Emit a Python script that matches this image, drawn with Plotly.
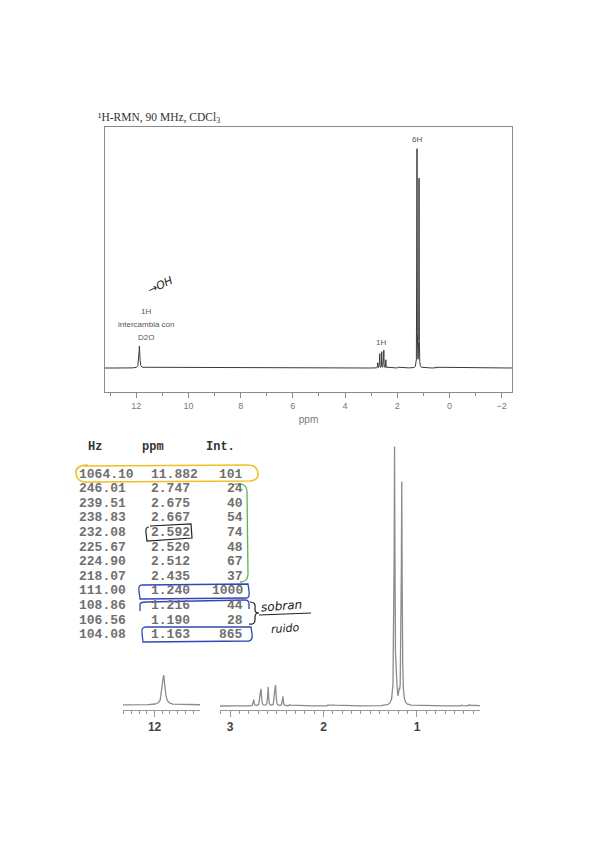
import numpy as np
import plotly.graph_objects as go

# ---------------- data ----------------
hz = [1064.10, 246.01, 239.51, 238.83, 232.08, 225.67, 224.90, 218.07,
      111.00, 108.86, 106.56, 104.08]
ppm = [11.882, 2.747, 2.675, 2.667, 2.592, 2.520, 2.512, 2.435,
       1.240, 1.216, 1.190, 1.163]
intensity = [101, 24, 40, 54, 74, 48, 67, 37, 1000, 44, 28, 865]
# small unlisted baseline bumps visible in the trace
minor_ppm = [2.36, 1.95, 1.88, 0.52, 0.44]
minor_int = [5, 4, 3, 5, 5]
# peak half-widths (ppm): OH is broad
half_width = [0.02] + [0.005] * 11
minor_width = [0.006] * 5

main_ticks = [12, 10, 8, 6, 4, 2, 0, -2]

OFF = 8  # page body margin
W, H = 599 - 2 * OFF, 848 - 2 * OFF
def X(p): return (p - OFF) / W
def Y(p): return 1 - (p - OFF) / H

# ---------------- line shape from peak list ----------------
centers = ppm + minor_ppm
heights = intensity + minor_int
widths = half_width + minor_width
grid = [np.arange(-2.4, 13.2, 0.004)]
for c in centers:
    grid.append(np.arange(c - 0.12, c + 0.12, 0.0004))
x = np.unique(np.round(np.concatenate(grid), 5))
y = np.zeros_like(x)
for c, h, w in zip(centers, heights, widths):
    y += h * w ** 2 / ((x - c) ** 2 + w ** 2)

fig = go.Figure()
fig.add_trace(go.Scatter(x=x, y=y, mode="lines", line=dict(color="#3a3a3a", width=1),
                         xaxis="x", yaxis="y", hoverinfo="skip"))
m2 = (x > 11.3) & (x < 12.5)
fig.add_trace(go.Scatter(x=x[m2], y=y[m2], mode="lines", line=dict(color="#8c8c8c", width=1.3),
                         xaxis="x2", yaxis="y2", hoverinfo="skip"))
m3 = (x > 0.2) & (x < 3.2)
fig.add_trace(go.Scatter(x=x[m3], y=y[m3], mode="lines", line=dict(color="#8c8c8c", width=1.3),
                         xaxis="x3", yaxis="y3", hoverinfo="skip"))

frame = "#8a8a8a"
fig.update_layout(
    width=W, height=H, margin=dict(l=0, r=0, t=0, b=0),
    paper_bgcolor="white", plot_bgcolor="white", showlegend=False,
    xaxis=dict(domain=[X(105), X(512)], range=[13.2, -2.4], anchor="y",
               tickvals=main_ticks, ticktext=[str(t).replace("-", "−") for t in main_ticks],
               ticks="outside", ticklen=5, tickcolor=frame, tickwidth=1,
               minor=dict(dtick=1, tick0=0, ticks="outside", ticklen=3, tickcolor=frame),
               showline=True, mirror=True, linecolor=frame, linewidth=1,
               showgrid=False, zeroline=False,
               tickfont=dict(family="Liberation Sans", size=9, color="#777"),
               title=dict(text="ppm", standoff=6,
                          font=dict(family="Liberation Sans", size=10, color="#777"))),
    yaxis=dict(domain=[Y(392), Y(127)], range=[-110, 1105], anchor="x",
               showline=True, mirror=True, linecolor=frame, linewidth=1,
               showticklabels=False, ticks="", showgrid=False, zeroline=False),
    xaxis2=dict(domain=[X(123), X(200)], range=[12.41, 11.41], anchor="y2",
                dtick=1, tick0=0, ticks="outside", ticklen=6, tickcolor="#999",
                minor=dict(dtick=0.1, tick0=0, ticks="outside", ticklen=3, tickcolor="#999"),
                showline=True, linecolor="#999", linewidth=1, showgrid=False, zeroline=False,
                tickfont=dict(family="Liberation Sans", size=12, color="#444", weight="bold")),
    yaxis2=dict(domain=[Y(710), Y(660)], range=[-17, 152], anchor="x2", visible=False),
    xaxis3=dict(domain=[X(220), X(480)], range=[3.107, 0.326], anchor="y3",
                dtick=1, tick0=0, ticks="outside", ticklen=6, tickcolor="#999",
                minor=dict(dtick=0.1, tick0=0, ticks="outside", ticklen=3, tickcolor="#999"),
                showline=True, linecolor="#999", linewidth=1, showgrid=False, zeroline=False,
                tickfont=dict(family="Liberation Sans", size=12, color="#444", weight="bold")),
    yaxis3=dict(domain=[Y(710), Y(440)], range=[-15.5, 1031], anchor="x3", visible=False),
)

def note(text, px, py, size=9, color="#555", family="Liberation Sans", xanchor="center",
         angle=0, weight="normal", style="normal"):
    fig.add_annotation(text=text, x=X(px), y=Y(py), xref="paper", yref="paper",
                       xanchor=xanchor, yanchor="middle", showarrow=False, textangle=angle,
                       font=dict(family=family, size=size, color=color, weight=weight, style=style))

# title and peak labels
note("¹H-RMN, 90 MHz, CDCl<sub>3</sub>", 96, 118, size=11.5, color="#333",
     family="Liberation Serif", xanchor="left")
note("6H", 417, 139, size=8)
note("1H", 381, 342, size=8)
note("1H", 146, 311, size=8)
note("intercambia con", 146, 324, size=8)
note("D2O", 146, 337, size=8)

# table
mono = "Liberation Mono"
note("Hz", 86, 447, size=12, color="#333", family=mono, xanchor="left", weight="bold")
note("ppm", 140, 447, size=12, color="#333", family=mono, xanchor="left", weight="bold")
note("Int.", 204, 447, size=12, color="#333", family=mono, xanchor="left", weight="bold")
for i, (a, b, c) in enumerate(zip(hz, ppm, intensity)):
    yy = 474 + 14.6 * i
    note(f"{a:.2f}", 77, yy, size=13, color="#707070", family=mono, xanchor="left", weight="bold")
    note(f"{b:.3f}", 149, yy, size=13, color="#707070", family=mono, xanchor="left", weight="bold")
    note(f"{c}", 245, yy, size=13, color="#707070", family=mono, xanchor="right", weight="bold")

# hand-drawn marks
def path(cmds):
    out = []
    for c in cmds:
        if c[0] == "Z":
            out.append("Z")
        else:
            pts = c[1:]
            s = " ".join(f"{X(pts[k]):.5f},{Y(pts[k+1]):.5f}" for k in range(0, len(pts), 2))
            out.append(f"{c[0]} {s}")
    return " ".join(out)

def pshape(cmds, color, width=1.4):
    fig.add_shape(type="path", path=path(cmds), xref="paper", yref="paper",
                  line=dict(color=color, width=width))

yellow, green, blue, black = "#f2be22", "#58b947", "#3346b5", "#222"
pshape([("M", 88, 465), ("Q", 75, 465, 76, 474), ("Q", 77, 483, 90, 482),
        ("L", 250, 481), ("Q", 259, 480, 258, 473), ("Q", 257, 465, 248, 465),
        ("L", 84, 466)], yellow, 1.6)
pshape([("M", 232, 485), ("Q", 247, 481, 247, 492), ("L", 248, 574),
        ("Q", 248, 582, 240, 582)], green, 1.3)
pshape([("M", 149, 527), ("Q", 145, 527, 146, 533), ("L", 147, 541), ("L", 192, 538),
        ("L", 191, 524), ("L", 150, 526)], black, 1.2)
pshape([("M", 142, 585), ("Q", 138, 585, 139, 591), ("L", 140, 599), ("L", 247, 598),
        ("Q", 250, 597, 249, 591), ("L", 248, 584), ("L", 142, 585)], blue, 1.3)
pshape([("M", 140, 611), ("L", 140, 604), ("Q", 141, 602, 146, 602), ("L", 245, 600),
        ("Q", 249, 600, 249, 604), ("L", 249, 609)], blue, 1.3)
pshape([("M", 146, 627), ("Q", 141, 627, 142, 633), ("L", 143, 642), ("L", 249, 641),
        ("Q", 253, 640, 252, 634), ("L", 251, 627), ("L", 146, 627)], blue, 1.3)
pshape([("M", 250, 602), ("Q", 256, 602, 255, 608), ("L", 255, 610), ("Q", 255, 613, 259, 613),
        ("Q", 255, 613, 255, 617), ("L", 255, 620), ("Q", 255, 625, 249, 624)], black, 1.2)
pshape([("M", 259, 615), ("L", 311, 613)], black, 1.1)
note("sobran", 258, 606, size=12, color=black, family="DejaVu Sans", xanchor="left",
     angle=-4, style="italic")
note("ruido", 268, 628, size=11, color=black, family="DejaVu Sans", xanchor="left",
     angle=-4, style="italic")
note("→OH", 160, 285, size=11, color=black, family="DejaVu Sans", angle=-25, style="italic")

fig.write_html("out.html")
